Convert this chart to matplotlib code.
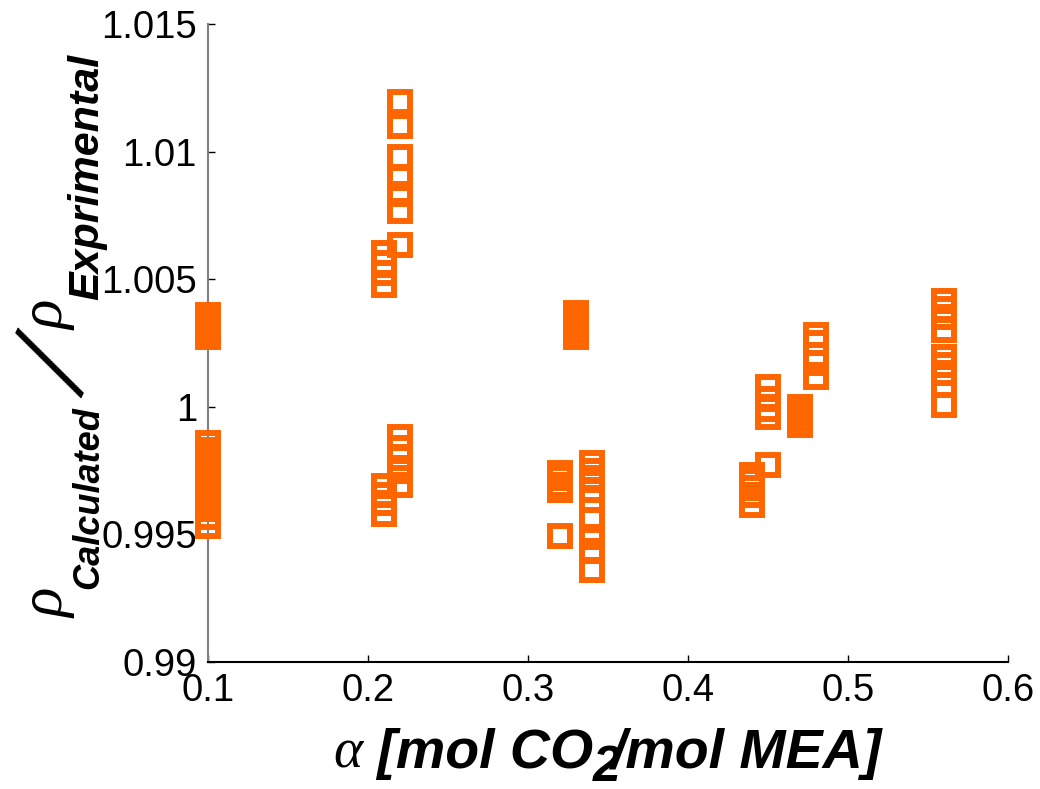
import numpy as np
import matplotlib.pyplot as plt
from matplotlib.transforms import IdentityTransform

plt.rcParams['font.family'] = ['Liberation Sans', 'DejaVu Sans']

# CO2 loading of each measurement series
loading = [0.10, 0.21, 0.22, 0.32, 0.33, 0.34, 0.44, 0.45, 0.47, 0.48, 0.56]

# calculated / experimental density ratio at each loading
ratio_010 = [1.00359, 1.00336, 1.00313, 1.00293, 1.00273,
             0.99859, 0.99832, 0.99809, 0.99785, 0.99762, 0.99738, 0.99715,
             0.99691, 0.99668, 0.99645, 0.99621, 0.99598, 0.99570, 0.99531]
ratio_021 = [1.00602, 1.00563, 1.00523, 1.00477, 0.99688, 0.99656, 0.99621, 0.99578]
ratio_022 = [1.01195, 1.01102, 1.00980, 1.00898, 1.00832, 1.00766, 1.00633,
             0.99883, 0.99840, 0.99801, 0.99750, 0.99695]
ratio_032 = [0.99742, 0.99719, 0.99695, 0.99672, 0.99492]
ratio_033 = [1.00367, 1.00344, 1.00320, 1.00297, 1.00273]
ratio_034 = [0.99781, 0.99750, 0.99719, 0.99672, 0.99633, 0.99555, 0.99488, 0.99434, 0.99360]
ratio_044 = [0.99734, 0.99711, 0.99680, 0.99656, 0.99617]
ratio_045 = [1.00078, 1.00031, 0.99992, 0.99961, 0.99773]
ratio_047 = [1.00000, 0.99977, 0.99953, 0.99930]
ratio_048 = [1.00281, 1.00250, 1.00203, 1.00172, 1.00117]
ratio_056 = [1.00414, 1.00383, 1.00352, 1.00301, 1.00195, 1.00164, 1.00133, 1.00086, 1.00008]

ratios = [ratio_010, ratio_021, ratio_022, ratio_032, ratio_033, ratio_034,
          ratio_044, ratio_045, ratio_047, ratio_048, ratio_056]

xticks = [0.1, 0.2, 0.3, 0.4, 0.5, 0.6]
yticks = [0.99, 0.995, 1.0, 1.005, 1.01, 1.015]

W, H = 1040, 789
fig = plt.figure(figsize=(W / 100, H / 100), dpi=100)
ax = fig.add_axes([0.2, 0.161, 0.7692, 0.8086])

for a, r in zip(loading, ratios):
    ax.plot([a] * len(r), r, 's', ms=14.4, mew=4.3, mec='#ff6600', mfc='none',
            linestyle='none', clip_on=False, zorder=3)

ax.set_xlim(0.1, 0.6)
ax.set_ylim(0.99, 1.015)
ax.set_xticks(xticks)
ax.set_yticks(yticks)
ax.set_xticklabels(['%g' % t for t in xticks])
ax.set_yticklabels(['%g' % t for t in yticks])

ax.spines['top'].set_visible(False)
ax.spines['right'].set_visible(False)
ax.spines['left'].set_color('#808080')
ax.spines['left'].set_linewidth(1.5)
ax.spines['bottom'].set_color('black')
ax.spines['bottom'].set_linewidth(1.5)
ax.tick_params(direction='in', length=5, width=1, labelsize=27.5, pad=8, color='black')

renderer = fig.canvas.get_renderer()
sans_bi = dict(family='Liberation Sans', weight='bold', style='italic')
serif_i = dict(family='Liberation Serif', style='italic')


def put(s, x, y, rot, ha='left', va='baseline', **kw):
    # x, y in pixels from the top-left corner
    t = fig.text(x, H - y, s, transform=IdentityTransform(), rotation=rot,
                 rotation_mode='anchor', ha=ha, va=va, **kw)
    return t.get_window_extent(renderer)


# y label, built piece by piece so the subscripts and the long slash sit like the MATLAB one
y = 618
bb = put('ρ', 64, y, 90, fontsize=44, **serif_i)
bb = put('Calculated', 98, H - bb.y1, 90, fontsize=26, **sans_bi)
y = H - bb.y1
put('/', 61, y - 38, 64, ha='center', va='center', fontsize=94, family='Liberation Serif')
bb = put('ρ', 64, y - 76, 90, fontsize=44, **serif_i)
put('Exprimental', 98, H - bb.y1, 90, fontsize=31, **sans_bi)

# x label with a full-size, dropped subscript
bb = put('α', 333, 768, 0, fontsize=40, **serif_i)
bb = put(' [mol CO', bb.x1, 768, 0, fontsize=40, **sans_bi)
x2 = bb.x1
bb2 = put('2', x2, 781, 0, fontsize=36, **sans_bi)
put('/mol MEA]', x2 + 0.6 * bb2.width, 768, 0, fontsize=40, **sans_bi)

fig.savefig('out.png', dpi=100)
